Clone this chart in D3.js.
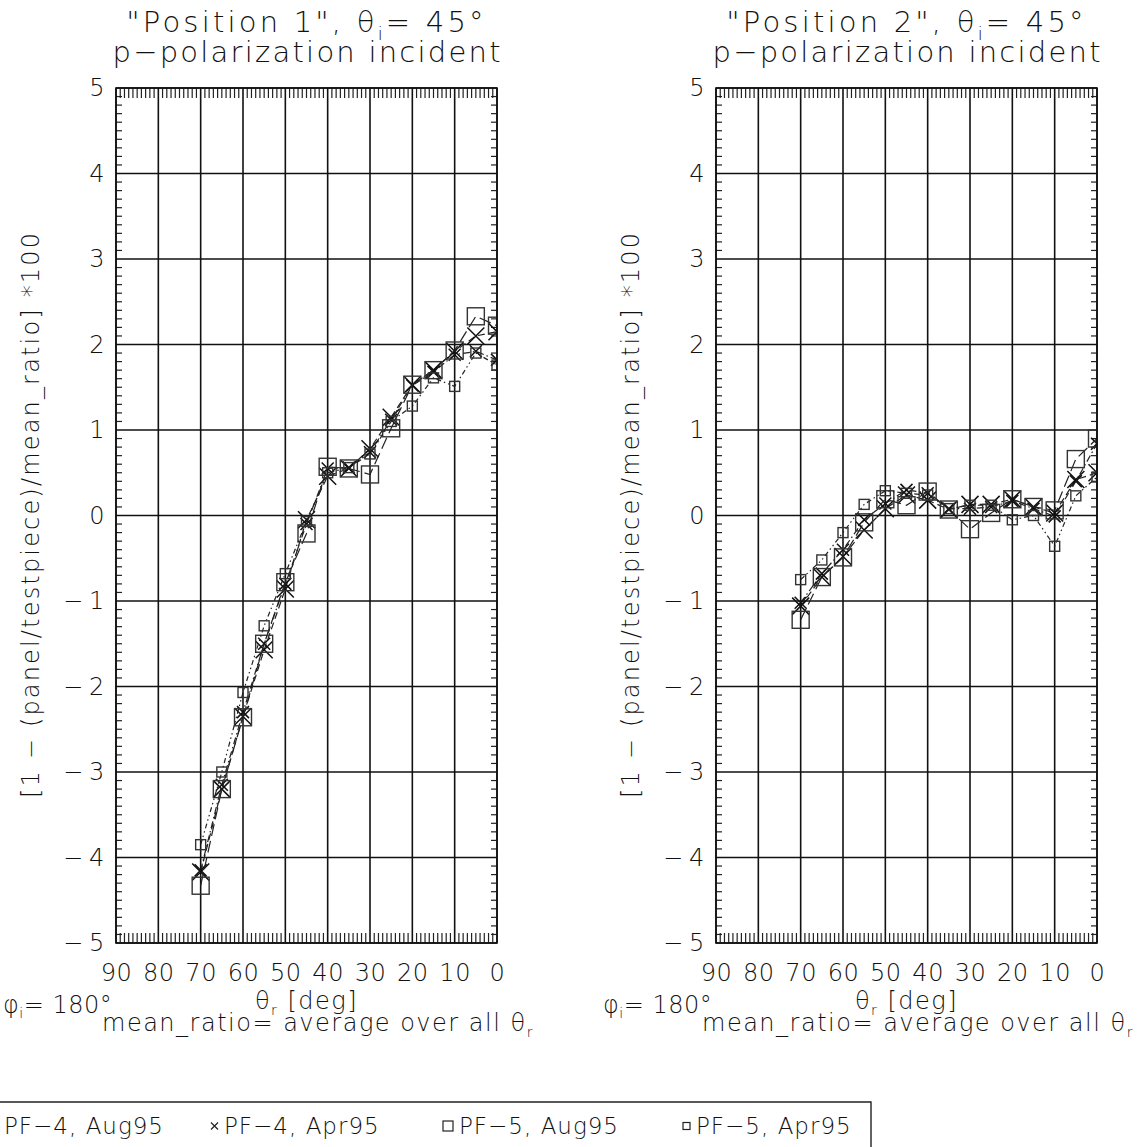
<!DOCTYPE html>
<html>
<head>
<meta charset="utf-8">
<script src="https://cdn.jsdelivr.net/npm/d3@7"></script>
<style>
  body { margin: 0; background: #fff; }
  text { font-family: "DejaVu Sans", sans-serif; font-weight: 200; fill: #111; }
</style>
</head>
<body>
<svg id="chart" width="1144" height="1147"></svg>
<script>
// reflection angle theta_r [deg] for every measured point
const thetaR = [70, 65, 60, 55, 50, 45, 40, 35, 30, 25, 20, 15, 10, 5, 0];

const seriesNames = ["PF-4, Aug95", "PF-4, Apr95", "PF-5, Aug95", "PF-5, Apr95"];

// "Position 1"
const pos1_pf4Aug = [-4.17, -3.20, -2.35, -1.57, -0.86, -0.05, 0.46, 0.55, 0.78, 1.15, 1.53, 1.70, 1.92, 2.10, 2.15];
const pos1_pf4Apr = [-4.15, -3.15, -2.30, -1.50, -0.80, -0.10, 0.55, 0.56, 0.74, 1.12, 1.52, 1.68, 1.88, 1.92, 1.82];
const pos1_pf5Aug = [-4.33, -3.20, -2.36, -1.50, -0.78, -0.21, 0.57, 0.55, 0.48, 1.02, 1.53, 1.70, 1.93, 2.33, 2.22];
const pos1_pf5Apr = [-3.85, -3.00, -2.07, -1.29, -0.68, -0.07, 0.50, 0.56, 0.72, 1.10, 1.28, 1.61, 1.51, 1.90, 1.76];

// "Position 2"
const pos2_pf4Aug = [-1.06, -0.72, -0.48, -0.17, 0.08, 0.24, 0.18, 0.07, 0.13, 0.13, 0.19, 0.10, 0.03, 0.42, 0.50];
const pos2_pf4Apr = [-1.02, -0.68, -0.40, -0.05, 0.14, 0.30, 0.26, 0.08, 0.08, 0.10, 0.17, 0.08, -0.01, 0.40, 0.84];
const pos2_pf5Aug = [-1.22, -0.72, -0.49, -0.08, 0.19, 0.12, 0.28, 0.07, -0.16, 0.03, 0.19, 0.10, 0.06, 0.66, 0.90];
const pos2_pf5Apr = [-0.75, -0.52, -0.20, 0.13, 0.29, 0.26, 0.24, 0.08, 0.12, 0.12, -0.05, 0.00, -0.36, 0.23, 0.45];

const xTicks = [90, 80, 70, 60, 50, 40, 30, 20, 10, 0];
const yTicks = [-5, -4, -3, -2, -1, 0, 1, 2, 3, 4, 5];
const panelNames = ['"Position 1"', '"Position 2"'];

// ---- layout ----
const svg = d3.select("#chart");
const W = 381, H = 855, TOP = 88;
const panelLeft = [116, 716];
const symbol = ["bigX", "smallX", "bigSq", "smallSq"];
const dashes = ["7,4", "7,3,1.5,3", "12,5", "5,3,1.5,3,1.5,3"];

const x = d3.scaleLinear().domain([90, 0]).range([0, W]);
const y = d3.scaleLinear().domain([-5, 5]).range([H, 0]);

const panels = [
  [pos1_pf4Aug, pos1_pf4Apr, pos1_pf5Aug, pos1_pf5Apr],
  [pos2_pf4Aug, pos2_pf4Apr, pos2_pf5Aug, pos2_pf5Apr]
];

function drawMarker(g, kind, cx, cy) {
  const big = kind === "bigX" || kind === "bigSq";
  if (kind.endsWith("X")) {
    const r = big ? 8.5 : 6;
    g.append("path")
      .attr("d", `M${cx - r},${cy - r}L${cx + r},${cy + r}M${cx - r},${cy + r}L${cx + r},${cy - r}`)
      .attr("stroke", "#111").attr("stroke-width", 1.5).attr("fill", "none");
  } else {
    const r = big ? 8.5 : 5;
    g.append("rect")
      .attr("x", cx - r).attr("y", cy - r).attr("width", 2 * r).attr("height", 2 * r)
      .attr("stroke", "#333").attr("stroke-width", 1.4).attr("fill", "none");
  }
}

panels.forEach((series, p) => {
  const g = svg.append("g").attr("transform", `translate(${panelLeft[p]},${TOP})`);

  // grid
  g.append("g").selectAll("line").data(xTicks).join("line")
    .attr("x1", d => x(d)).attr("x2", d => x(d)).attr("y1", 0).attr("y2", H)
    .attr("stroke", "#111").attr("stroke-width", 1.6);
  g.append("g").selectAll("line").data(yTicks).join("line")
    .attr("y1", d => y(d)).attr("y2", d => y(d)).attr("x1", 0).attr("x2", W)
    .attr("stroke", "#111").attr("stroke-width", 1.6);

  // minor ticks
  const xMinor = d3.range(0, 91).filter(d => d % 10 !== 0);
  const yMinor = d3.range(-50, 51).filter(d => d % 10 !== 0).map(d => d / 10);
  const mt = g.append("g").attr("stroke", "#222").attr("stroke-width", 1.2);
  xMinor.forEach(d => {
    mt.append("line").attr("x1", x(d)).attr("x2", x(d)).attr("y1", 0).attr("y2", 10);
    mt.append("line").attr("x1", x(d)).attr("x2", x(d)).attr("y1", H).attr("y2", H - 10);
  });
  yMinor.forEach(d => {
    mt.append("line").attr("y1", y(d)).attr("y2", y(d)).attr("x1", 0).attr("x2", 6);
    mt.append("line").attr("y1", y(d)).attr("y2", y(d)).attr("x1", W).attr("x2", W - 6);
  });

  // axes labels through d3 axes
  const ax = g.append("g").attr("transform", `translate(0,${H})`)
    .call(d3.axisBottom(x).tickValues(xTicks).tickSize(0).tickPadding(21).tickFormat(d3.format("d")));
  const ay = g.append("g")
    .call(d3.axisLeft(y).tickValues(yTicks).tickSize(0).tickPadding(11).tickFormat(d => d < 0 ? "\u2212\u2009" + Math.abs(d) : d));
  [ax, ay].forEach(a => {
    a.select(".domain").remove();
    a.selectAll("text").style("font-size", "24px").style("font-family", '"DejaVu Sans", sans-serif')
      .style("letter-spacing", "0.6px").attr("fill", "#111");
  });

  // data
  const clipId = "clip" + p;
  g.append("clipPath").attr("id", clipId).append("rect").attr("width", W).attr("height", H);
  const dg = g.append("g").attr("clip-path", `url(#${clipId})`);
  const line = d3.line().x(d => x(d[0])).y(d => y(d[1]));
  series.forEach((vals, s) => {
    const pts = thetaR.map((t, i) => [t, vals[i]]);
    dg.append("path").attr("d", line(pts)).attr("fill", "none")
      .attr("stroke", "#222").attr("stroke-width", 1.2).attr("stroke-dasharray", dashes[s]);
    pts.forEach(pt => drawMarker(dg, symbol[s], x(pt[0]), y(pt[1])));
  });

  // frame
  g.append("rect").attr("width", W).attr("height", H)
    .attr("fill", "none").attr("stroke", "#111").attr("stroke-width", 1.6);

  // titles
  const t1 = g.append("text").attr("x", W / 2).attr("y", -56).attr("text-anchor", "middle")
    .style("font-size", "29px").style("letter-spacing", "3.2px");
  t1.append("tspan").text(panelNames[p] + ", \u03B8");
  t1.append("tspan").attr("dy", 8).style("font-size", "18px").text("i");
  t1.append("tspan").attr("dy", -8).text("= 45\u00B0");
  g.append("text").attr("x", W / 2).attr("y", -26).attr("text-anchor", "middle").style("font-size", "29px")
    .attr("textLength", 388).attr("lengthAdjust", "spacing")
    .text("p\u2212polarization incident");

  // x title
  const xt = g.append("text").attr("x", W / 2).attr("y", H + 66).attr("text-anchor", "middle")
    .style("font-size", "24px").style("letter-spacing", "1.5px");
  xt.append("tspan").text("\u03B8");
  xt.append("tspan").attr("dy", 6).style("font-size", "14px").text("r");
  xt.append("tspan").attr("dy", -6).text(" [deg]");

  // y title
  g.append("text").attr("transform", `translate(${-77},${H / 2}) rotate(-90)`)
    .attr("text-anchor", "middle").style("font-size", "24px")
    .attr("textLength", 565).attr("lengthAdjust", "spacing")
    .text("[1 \u2212 (panel/testpiece)/mean_ratio] *100");

  // bottom notes
  const phi = g.append("text").attr("x", -113).attr("y", H + 70).style("font-size", "24px").style("letter-spacing", "0.5px");
  phi.append("tspan").text("\u03C6");
  phi.append("tspan").attr("dy", 5).style("font-size", "14px").text("i");
  phi.append("tspan").attr("dy", -5).text("= 180\u00B0");
  const mr = g.append("text").attr("x", -14).attr("y", H + 88).style("font-size", "24px").style("letter-spacing", "1.5px");
  mr.append("tspan").text("mean_ratio= average over all \u03B8");
  mr.append("tspan").attr("dy", 6).style("font-size", "14px").text("r");
});

// legend
const legendX = [-20, 211, 443, 683];
const lg = svg.append("g");
lg.append("path").attr("d", "M0,1102H871V1147").attr("fill", "none").attr("stroke", "#222").attr("stroke-width", 1.4);
seriesNames.forEach((name, s) => {
  const lx = legendX[s], ly = 1126;
  if (s === 1) {
    lg.append("path").attr("d", `M${lx},${ly - 3.5}l7,7M${lx},${ly + 3.5}l7,-7`).attr("stroke", "#222").attr("stroke-width", 1.2);
  } else if (s === 2) {
    lg.append("rect").attr("x", lx).attr("y", ly - 5).attr("width", 10).attr("height", 10).attr("fill", "none").attr("stroke", "#222").attr("stroke-width", 1.2);
  } else if (s === 3) {
    lg.append("rect").attr("x", lx).attr("y", ly - 3.5).attr("width", 7).attr("height", 7).attr("fill", "none").attr("stroke", "#222").attr("stroke-width", 1.2);
  }
  lg.append("text").attr("x", s === 0 ? 4 : lx + (s === 2 ? 16 : 13)).attr("y", 1134)
    .style("font-size", "23px").style("letter-spacing", "1px")
    .text(name.replace("-", "\u2212"));
});
</script>
</body>
</html>
